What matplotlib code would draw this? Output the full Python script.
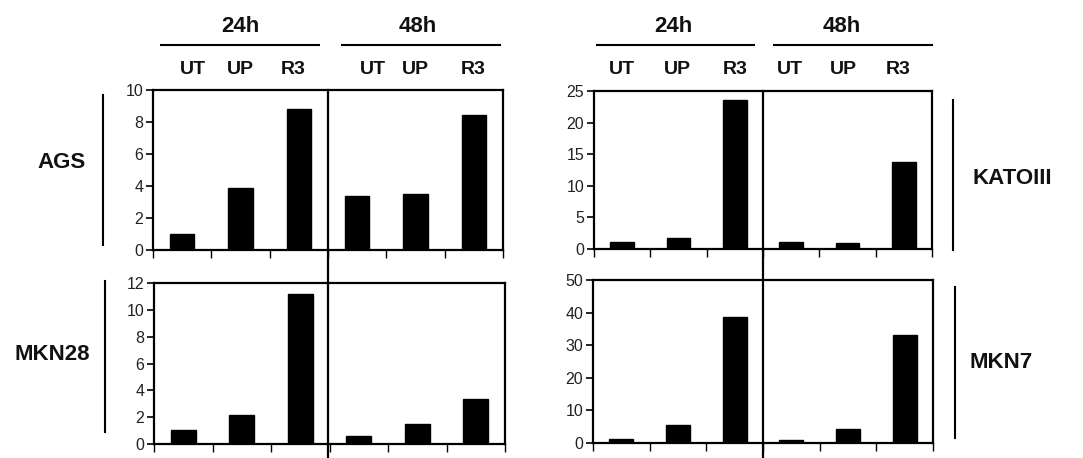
import matplotlib
matplotlib.use("Agg")
import matplotlib.pyplot as plt
from matplotlib.lines import Line2D
import matplotlib.transforms as mtransforms

plt.rcParams['font.family'] = ['Liberation Sans', 'DejaVu Sans']

W, H = 1083, 458
conditions = ["UT", "UP", "R3", "UT", "UP", "R3"]
timepoints = ["24h", "48h"]

ags = [1.0, 3.88, 8.82, 3.35, 3.5, 8.45]
mkn28 = [1.05, 2.13, 11.2, 0.62, 1.5, 3.37]
katoiii = [1.05, 1.7, 23.5, 1.05, 0.9, 13.7]
mkn7 = [1.2, 5.4, 38.7, 0.9, 4.4, 33.0]

panels = [
    # name, values, ymax, ystep, (left, right, top, bottom) px
    ("AGS", ags, 10, 2, (153, 503, 90, 250)),
    ("MKN28", mkn28, 12, 2, (154, 505, 283, 444)),
    ("KATOIII", katoiii, 25, 5, (594, 932, 91, 249)),
    ("MKN7", mkn7, 50, 10, (593, 933, 280, 443)),
]

fig = plt.figure(figsize=(W / 100, H / 100), dpi=100)

def fx(px):
    return px / W

def fy(py):
    return 1 - py / H

axes = {}
for name, vals, ymax, ystep, (l, r, t, b) in panels:
    ax = fig.add_axes([fx(l), fy(b), fx(r - l), (b - t) / H])
    axes[name] = ax
    xs = list(range(len(vals)))
    ax.bar(xs, vals, width=0.42, color='black', edgecolor='black', zorder=3)
    ax.set_xlim(-0.5, len(vals) - 0.5)
    ax.set_ylim(0, ymax)
    ax.set_yticks(list(range(0, ymax + 1, ystep)))
    ax.set_xticks([i - 0.5 for i in range(len(vals) + 1)])
    ax.set_xticklabels([])
    for s in ax.spines.values():
        s.set_linewidth(1.6)
        s.set_color('black')
    ax.tick_params(axis='y', direction='out', length=5, width=1.2, labelsize=11.5,
                   labelcolor='#222222', pad=2, right=False)
    ax.tick_params(axis='x', direction='out', length=6, width=1.0, bottom=True, top=False)

# vertical dividers between 24h and 48h, spanning to figure bottom
for top_name in ["AGS", "KATOIII"]:
    ax = axes[top_name]
    trans = mtransforms.blended_transform_factory(ax.transData, fig.transFigure)
    top_y = ax.get_position().y1
    fig.add_artist(Line2D([2.5, 2.5], [top_y, 0.0], transform=trans,
                          color='black', linewidth=1.6))

# header labels
def htext(xp, yp, s, size, weight='bold'):
    fig.text(fx(xp), fy(yp), s, ha='center', va='center', fontsize=size,
             fontweight=weight, color='#111111')

def hline(x0, x1, yp, lw=1.5):
    fig.add_artist(Line2D([fx(x0), fx(x1)], [fy(yp), fy(yp)], color='black', linewidth=lw))

def vline(xp, y0, y1, lw=1.5):
    fig.add_artist(Line2D([fx(xp), fx(xp)], [fy(y0), fy(y1)], color='black', linewidth=lw))

# left group
htext(240, 27, timepoints[0], 16)
htext(418, 27, timepoints[1], 16)
hline(161, 319, 45)
hline(342, 500, 45)
for xp, s in zip([193, 240, 293, 373, 415, 473], conditions):
    htext(xp, 70, s, 14)

# right group
htext(673, 27, timepoints[0], 16)
htext(842, 27, timepoints[1], 16)
hline(597, 754, 45)
hline(774, 932, 45)
for xp, s in zip([622, 677, 735, 790, 843, 898], conditions):
    htext(xp, 70, s, 14)

# cell line labels
htext(62, 163, "AGS", 16)
vline(103, 95, 245)
htext(52, 355, "MKN28", 16)
vline(105, 281, 432)
htext(1012, 178, "KATOIII", 16)
vline(953, 100, 250)
htext(1001, 362, "MKN7", 16)
vline(955, 287, 438)

fig.savefig("out.png", dpi=100)
